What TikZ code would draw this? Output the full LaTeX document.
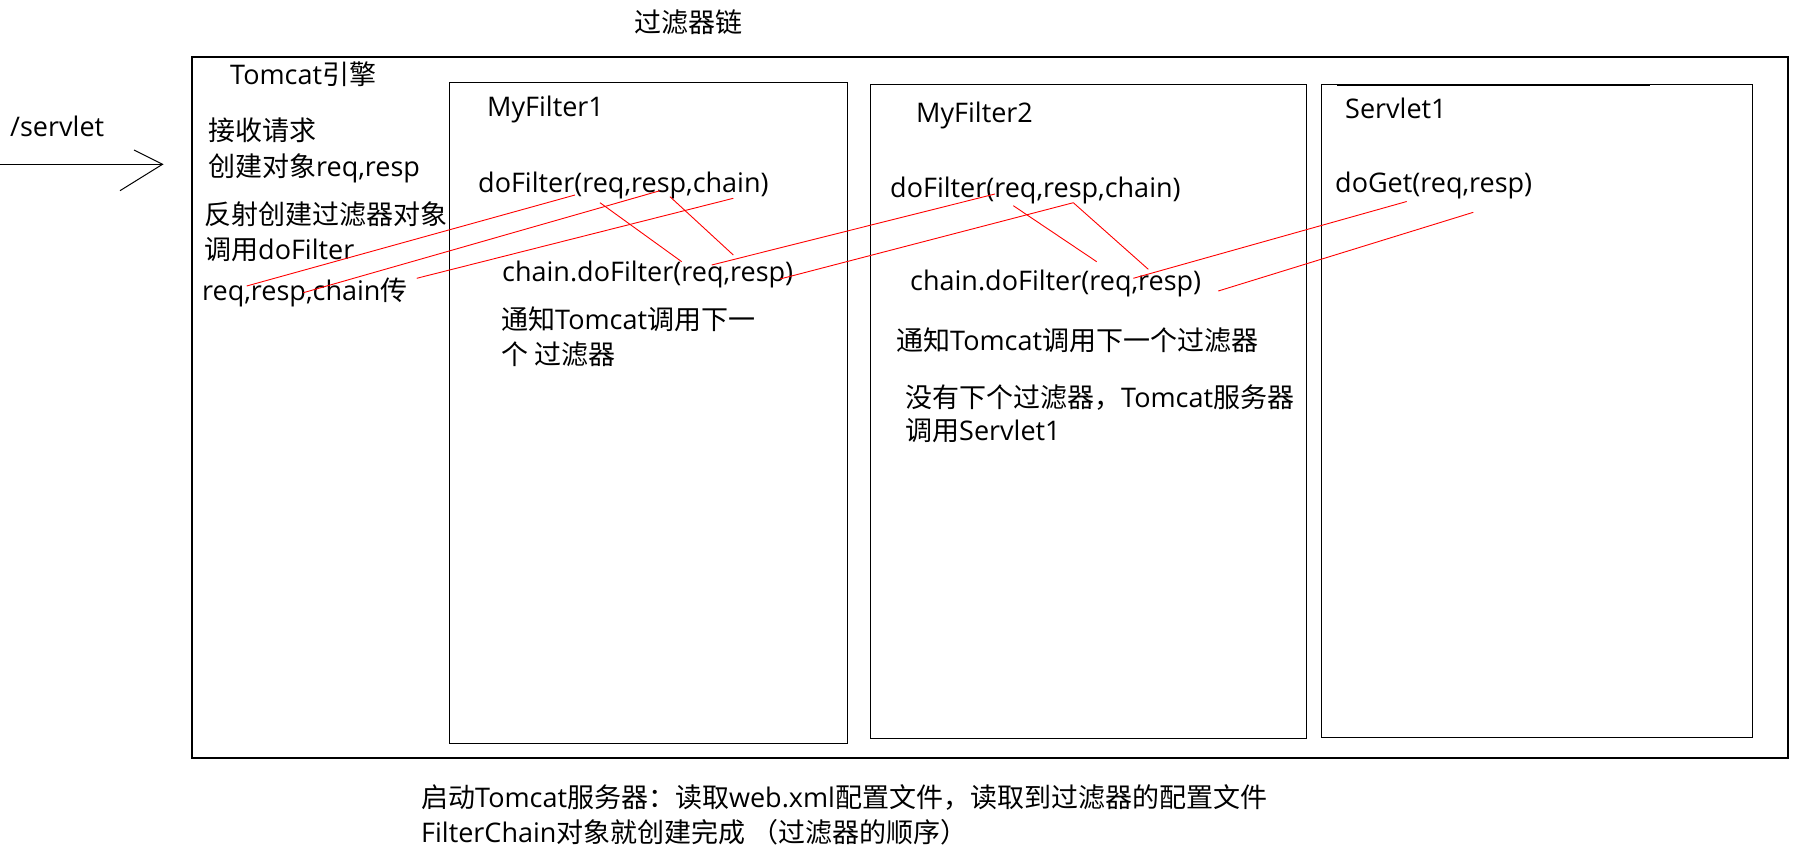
\documentclass[tikz,border=0pt]{standalone}
\usepackage{fontspec}
\setmainfont{Open Sans}
\newfontfamily\cjk{Noto Sans CJK SC}
\newcommand\zh[1]{{\cjk #1}}
\tikzset{
  txt/.style={anchor=base west, inner sep=0pt, font=\fontsize{27}{32}\selectfont},
  outerbox/.style={draw=black, line width=1.4pt},
  innerbox/.style={draw=black, line width=1.1pt},
  redline/.style={draw=red, line width=0.9pt},
  inarrow/.style={draw=black, line width=1pt},
}
\begin{document}
\begin{tikzpicture}[x=1pt,y=-1pt]
\useasboundingbox (0,0) rectangle (1809,857);
% boxes
\draw[outerbox] (192,57) rectangle (1788,758);
\draw[innerbox] (449.5,82.3) rectangle (847.3,743.3);
\draw[innerbox] (870.8,84.5) rectangle (1306.5,738.3);
\draw[innerbox] (1321.5,84.3) rectangle (1752.3,737.3);
\draw[innerbox] (1337,85.3) -- (1650,85.3);
% title and request
\node[txt] (title) at (634,32) {\zh{过滤器链}};
\node[txt] (servlet) at (10,136) {/servlet};
\coordinate (arrS) at (0,164.3);
\coordinate (arrT) at (162.5,164.3);
\coordinate (arrU) at (134,150);
\coordinate (arrL) at (120,190.7);
\draw[inarrow] (arrS) -- (arrT);
\draw[inarrow] (arrU) -- (arrT) -- (arrL);
% Tomcat column
\node[txt] (tomcat) at (230,84) {Tomcat\zh{引擎}};
\node[txt] (recv) at (208,140) {\zh{接收请求}};
\node[txt] (create) at (208,176) {\zh{创建对象}req,resp};
\node[txt] (reflect) at (204,224) {\zh{反射创建过滤器对象}};
\node[txt] (call) at (204,259) {\zh{调用}doFilter};
\node[txt] (pass) at (202,300) {req,resp,chain\zh{传}};
% MyFilter1
\node[txt] (f1) at (487,116) {MyFilter1};
\node[txt] (f1do) at (478,192) {doFilter(req,resp,chain)};
\node[txt] (f1chain) at (502,281) {chain.doFilter(req,resp)};
\node[txt] (f1note) at (501,329) {\zh{通知}Tomcat\zh{调用下一}};
\node[txt] (f1note2) at (501,364) {\zh{个 过滤器}};
% MyFilter2
\node[txt] (f2) at (916,122) {MyFilter2};
\node[txt] (f2do) at (890,197) {doFilter(req,resp,chain)};
\node[txt] (f2chain) at (910,290) {chain.doFilter(req,resp)};
\node[txt] (f2note) at (896,350) {\zh{通知}Tomcat\zh{调用下一个过滤器}};
\node[txt] (f2none) at (905,407) {\zh{没有下个过滤器，}Tomcat\zh{服务器}};
\node[txt] (f2call) at (905,440) {\zh{调用}Servlet1};
% Servlet1
\node[txt] (s1) at (1345,118) {Servlet1};
\node[txt] (s1get) at (1335,192.5) {doGet(req,resp)};
% bottom notes
\node[txt] (boot) at (421,807.5) {\zh{启动}Tomcat\zh{服务器：读取}web.xml\zh{配置文件，读取到过滤器的配置文件}};
\node[txt] (fc) at (421,842.5) {FilterChain\zh{对象就创建完成 （过滤器的顺序）}};
% red strokes
\coordinate (a1) at (575,195);     \coordinate (a2) at (246.7,286);
\coordinate (b1) at (660,190.7);   \coordinate (b2) at (303.3,292.7);
\coordinate (c1) at (733.3,198.3); \coordinate (c2) at (416.7,278.3);
\coordinate (d1) at (600,202.7);   \coordinate (d2) at (681.7,261.7);
\coordinate (e1) at (670,196.7);   \coordinate (e2) at (733.3,255);
\coordinate (g1) at (711.7,265);   \coordinate (g2) at (995,194);
\coordinate (h1) at (780,279);     \coordinate (h2) at (1073.3,202.7);
\coordinate (i1) at (1013.3,205.7);\coordinate (i2) at (1096.7,261.7);
\coordinate (j2) at (1148.3,269.3);
\coordinate (k1) at (1133.3,278.3);\coordinate (k2) at (1406.7,201.5);
\coordinate (l1) at (1218.3,291);  \coordinate (l2) at (1473.3,212.3);
\draw[redline] (a1) -- (a2);
\draw[redline] (b1) -- (b2);
\draw[redline] (c1) -- (c2);
\draw[redline] (d1) -- (d2);
\draw[redline] (e1) -- (e2);
\draw[redline] (g1) -- (g2);
\draw[redline] (h1) -- (h2);
\draw[redline] (i1) -- (i2);
\draw[redline] (h2) -- (j2);
\draw[redline] (k1) -- (k2);
\draw[redline] (l1) -- (l2);
\end{tikzpicture}
\end{document}
